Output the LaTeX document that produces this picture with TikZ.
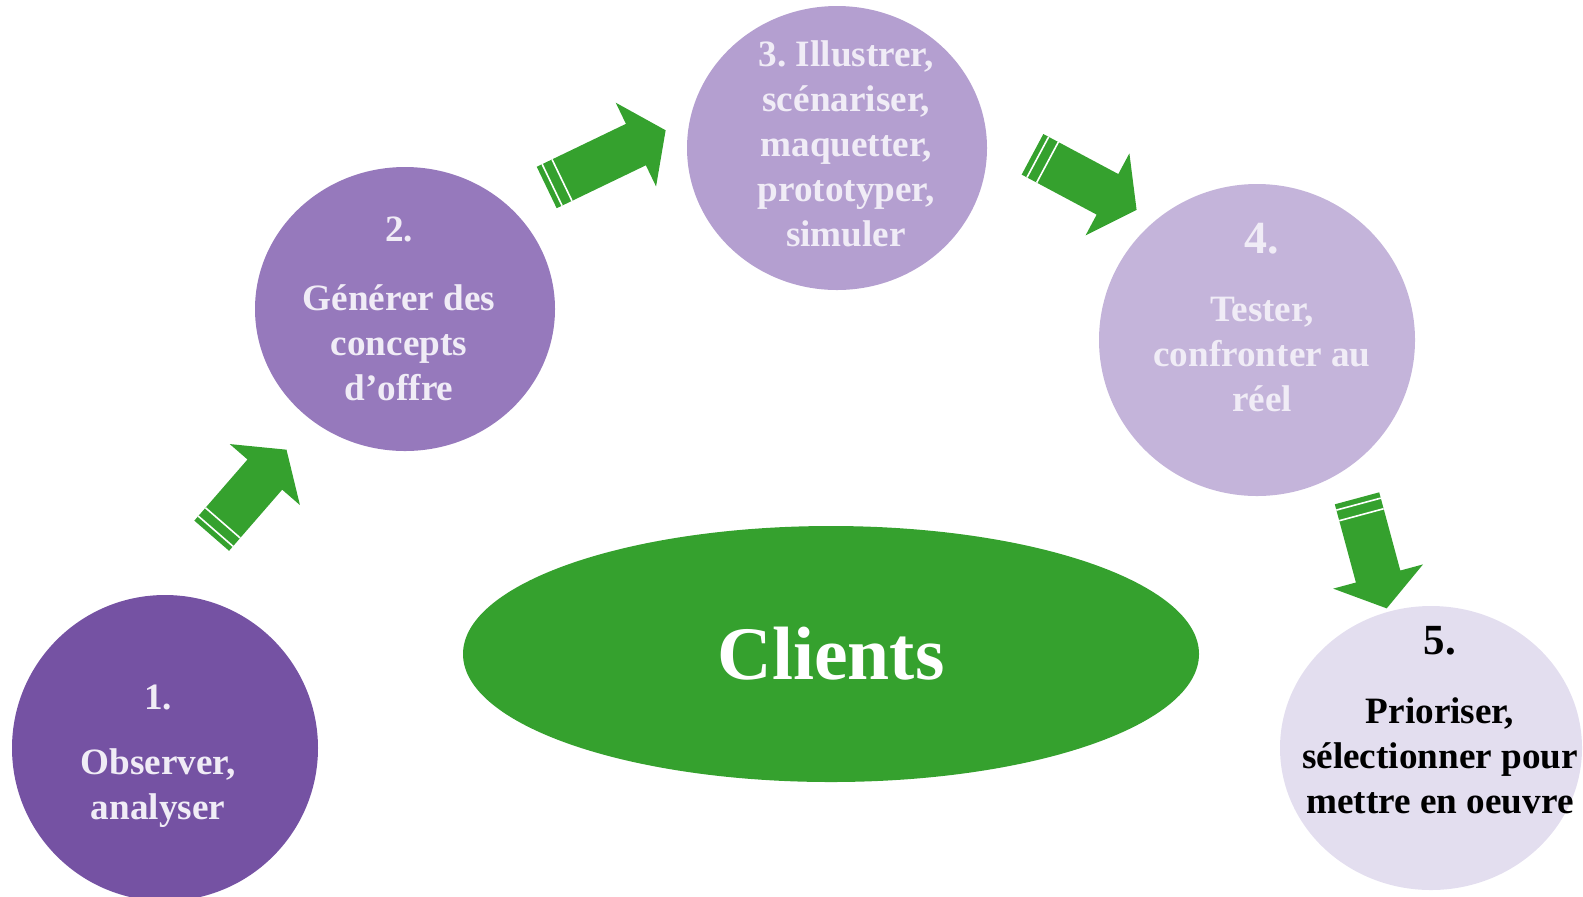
\documentclass[tikz,border=0pt]{standalone}
\usepackage{fontspec}
\setmainfont{Liberation Serif}
\usetikzlibrary{shapes.geometric}
\definecolor{violet1}{RGB}{117,82,163}
\definecolor{violet2}{RGB}{150,121,188}
\definecolor{violet3}{RGB}{180,159,208}
\definecolor{violet4}{RGB}{196,180,218}
\definecolor{violet5}{RGB}{227,222,239}
\definecolor{vert}{RGB}{53,161,46}
\definecolor{pale}{RGB}{240,236,246}
\frenchspacing
\tikzset{
	%Define style for the circles
	etape/.style={
		ellipse,
		inner sep=0pt},
	%Define style for the texts of the steps
	texte/.style={
		align=center,
		text=pale,
		font=\bfseries\fontsize{18.6}{22.5}\selectfont},
	% Define the striped block arrow
	pics/fleche/.style={code={
		\fill[vert] (0,-23) -- (#1-33,-23) -- (#1-33,-46.5) -- (#1,0) -- (#1-33,46.5) -- (#1-33,23) -- (0,23) -- cycle;
		\draw[white,line width=0.8pt] (6,-23) -- (6,23) (17,-23) -- (17,23);
	}}
}
\begin{document}
\begin{tikzpicture}[x=0.5pt,y=-0.5pt]
	\useasboundingbox (0,0) rectangle (1583,896);
	
	\node[etape,fill=vert,minimum width=368pt,minimum height=128pt,text=white,font=\bfseries\fontsize{37.8}{45}\selectfont] (clients) at (831,654) {Clients};
	
	\node[etape,fill=violet1,minimum width=153pt,minimum height=153pt] (c1) at (165,748) {};
	\node[texte] (t1) at (158,756) {1.\\[10pt] Observer,\\ analyser};
	
	\node[etape,fill=violet2,minimum width=150pt,minimum height=142pt] (c2) at (405,309) {};
	\node[texte] (t2) at (399,309) {2.\\[12pt] Générer des\\ concepts\\ d’offre};
	
	\node[etape,fill=violet3,minimum width=150pt,minimum height=142pt] (c3) at (837,148) {};
	\node[texte] (t3) at (846,144) {3. Illustrer,\\ scénariser,\\ maquetter,\\ prototyper,\\ simuler};
	
	\node[etape,fill=violet4,minimum width=158pt,minimum height=156pt] (c4) at (1257,340) {};
	\node[texte] (t4) at (1262,318) {{\fontsize{23}{28}\selectfont 4.}\\[11.5pt] Tester,\\ confronter au\\ réel};
	
	\node[etape,fill=violet5,minimum width=151pt,minimum height=142pt] (c5) at (1431,748) {};
	\node[texte,text=black] (t5) at (1440,720) {{\fontsize{21.5}{26}\selectfont 5.}\\[11.75pt] Prioriser,\\ sélectionner pour\\ mettre en oeuvre};
	
	% arrows between the steps
	\coordinate (f1) at (211.7,535.7);
	\coordinate (f2) at (546.7,187.5);
	\coordinate (f3) at (1032.5,154.3);
	\coordinate (f4) at (1357,498.3);
	\pic[rotate=49] at (f1) {fleche=114};
	\pic[rotate=25.7] at (f2) {fleche=132};
	\pic[rotate=-28.1] at (f3) {fleche=118};
	\pic[rotate=-74.9] at (f4) {fleche=114};
	
\end{tikzpicture}
\end{document}
